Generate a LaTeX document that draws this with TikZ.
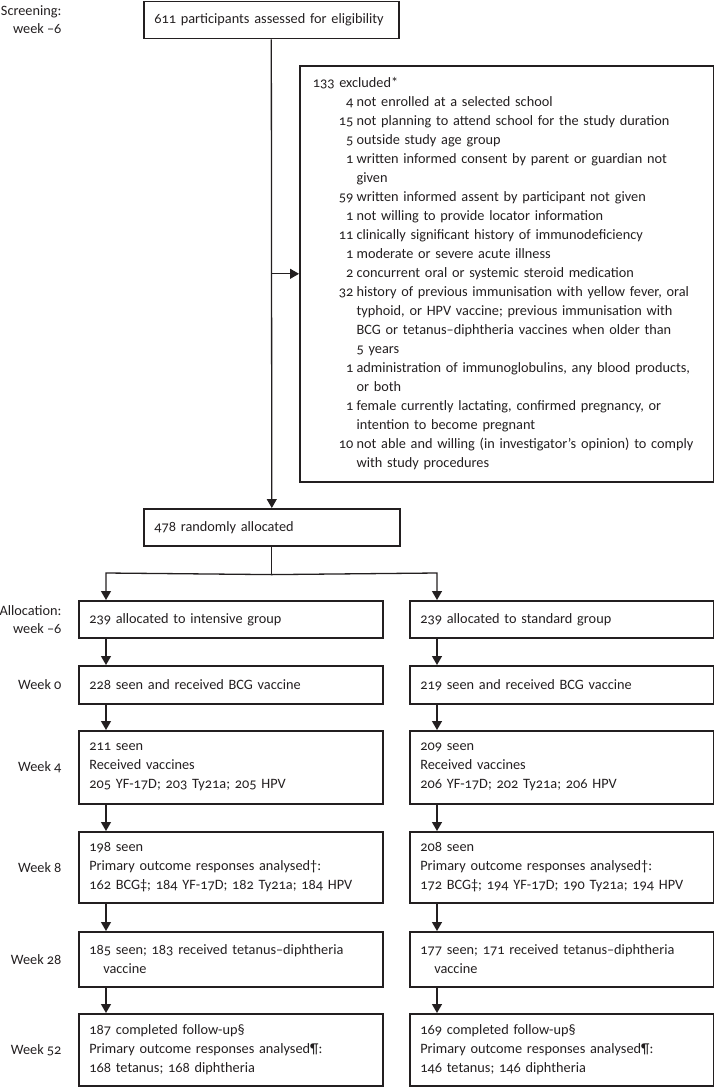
\documentclass[tikz,border=0pt]{standalone}
\usepackage{fontspec}
\setmainfont{Carlito}[Numbers=OldStyle]
\usetikzlibrary{arrows.meta,calc}
\definecolor{ink}{HTML}{231F20}
\begin{document}
\begin{tikzpicture}[x=1pt,y=-1pt,
  font=\fontsize{14.3}{19}\selectfont, text=ink,
  box/.style={draw=ink, line width=1.6pt, rectangle, inner xsep=10.5pt, inner ysep=0pt, align=left, anchor=north west},
  arr/.style={draw=ink, line width=1.3pt, -{Triangle[length=9pt,width=10pt]}},
  line/.style={draw=ink, line width=1.3pt},
  wk/.style={anchor=east, align=right, font=\fontsize{14.3}{18}\selectfont}]
\useasboundingbox (0,0) rectangle (714,1087);

% main column
\node[box, text width=234pt, minimum height=37pt] (top) at (143,0.8) {611 participants assessed for eligibility};
\node[box, inner xsep=13pt, text width=388pt, minimum height=416pt] (excl) at (299,65) {%
\begin{tabular}{@{\hspace{26pt}}r@{\hspace{3.3pt}}l@{}}
\multicolumn{2}{@{}l@{}}{133 excluded*}\\
4 & not enrolled at a selected school\\
15 & not planning to attend school for the study duration\\
5 & outside study age group\\
1 & written informed consent by parent or guardian not\\
 & given\\
59 & written informed assent by participant not given\\
1 & not willing to provide locator information\\
11 & clinically significant history of immunodeficiency\\
1 & moderate or severe acute illness\\
2 & concurrent oral or systemic steroid medication\\
32 & history of previous immunisation with yellow fever, oral\\
 & typhoid, or HPV vaccine; previous immunisation with\\
 & BCG or tetanus–diphtheria vaccines when older than\\
 & 5 years\\
1 & administration of immunoglobulins, any blood products,\\
 & or both\\
1 & female currently lactating, confirmed pregnancy, or\\
 & intention to become pregnant\\
10 & not able and willing (in investigator’s opinion) to comply\\
 & with study procedures
\end{tabular}};
\node[box, text width=235pt, minimum height=37pt] (rand) at (143,508) {478 randomly allocated};

% left column
\node[box, text width=283pt, minimum height=37pt] (alloL) at (78,600) {239 allocated to intensive group};
\node[box, text width=283pt, minimum height=38pt] (w0L) at (78,665) {228 seen and received BCG vaccine};
\node[box, text width=283pt, minimum height=73pt] (w4L) at (78,730) {211 seen\\Received vaccines\\205 YF-17D; 203 Ty21a; 205 HPV};
\node[box, text width=283pt, minimum height=71pt] (w8L) at (78,831) {198 seen\\Primary outcome responses analysed†:\\162 BCG‡; 184 YF-17D; 182 Ty21a; 184 HPV};
\node[box, text width=283pt, minimum height=55pt] (w28L) at (78,931) {185 seen; 183 received tetanus–diphtheria\\\hspace*{14pt}vaccine};
\node[box, text width=283pt, minimum height=72pt] (w52L) at (78,1013) {187 completed follow-up§\\Primary outcome responses analysed¶:\\168 tetanus; 168 diphtheria};

% right column
\node[box, text width=283pt, minimum height=37pt] (alloR) at (409,600) {239 allocated to standard group};
\node[box, text width=283pt, minimum height=38pt] (w0R) at (409,665) {219 seen and received BCG vaccine};
\node[box, text width=283pt, minimum height=73pt] (w4R) at (409,730) {209 seen\\Received vaccines\\206 YF-17D; 202 Ty21a; 206 HPV};
\node[box, text width=283pt, minimum height=71pt] (w8R) at (409,831) {208 seen\\Primary outcome responses analysed†:\\172 BCG‡; 194 YF-17D; 190 Ty21a; 194 HPV};
\node[box, text width=283pt, minimum height=55pt] (w28R) at (409,931) {177 seen; 171 received tetanus–diphtheria\\\hspace*{14pt}vaccine};
\node[box, text width=283pt, minimum height=72pt] (w52R) at (409,1013) {169 completed follow-up§\\Primary outcome responses analysed¶:\\146 tetanus; 146 diphtheria};

% side labels
\node[wk, xshift=-13pt] (lscr) at (alloL.west |- top.west) {Screening:\\week –6};
\node[wk, xshift=-13pt] (lall) at (alloL.west) {Allocation:\\week –6};
\node[wk, xshift=-13pt] (lw0) at (w0L.west) {Week 0};
\node[wk, xshift=-13pt] (lw4) at (w4L.west) {Week 4};
\node[wk, xshift=-13pt] (lw8) at (w8L.west) {Week 8};
\node[wk, xshift=-13pt] (lw28) at (w28L.west) {Week 28};
\node[wk, xshift=-13pt] (lw52) at (w52L.west) {Week 52};

% column anchors
\coordinate (split) at ($(rand.south)+(0,28)$);
\coordinate (Lc) at (106,573);
\coordinate (Rc) at (437,573);

% connectors
\draw[arr] (top.south) -- (rand.north);
\draw[arr] (excl.west -| top.south) -- (excl.west);
\draw[line] (rand.south) -- (split);
\draw[arr] (split) -- (Lc) -- (Lc |- alloL.north);
\draw[arr] (split) -- (Rc) -- (Rc |- alloR.north);

\draw[arr] (Lc |- alloL.south) -- (Lc |- w0L.north);
\draw[arr] (Lc |- w0L.south) -- (Lc |- w4L.north);
\draw[arr] (Lc |- w4L.south) -- (Lc |- w8L.north);
\draw[arr] (Lc |- w8L.south) -- (Lc |- w28L.north);
\draw[arr] (Lc |- w28L.south) -- (Lc |- w52L.north);

\draw[arr] (Rc |- alloR.south) -- (Rc |- w0R.north);
\draw[arr] (Rc |- w0R.south) -- (Rc |- w4R.north);
\draw[arr] (Rc |- w4R.south) -- (Rc |- w8R.north);
\draw[arr] (Rc |- w8R.south) -- (Rc |- w28R.north);
\draw[arr] (Rc |- w28R.south) -- (Rc |- w52R.north);
\end{tikzpicture}
\end{document}
